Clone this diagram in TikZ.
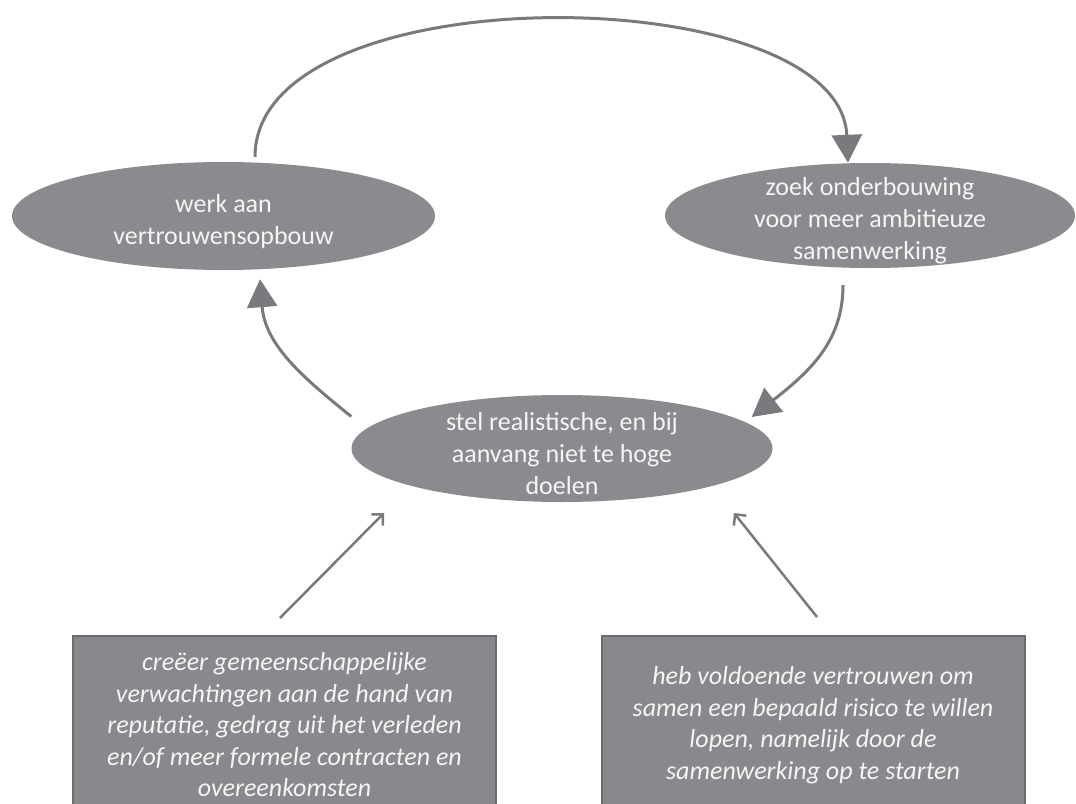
\documentclass[tikz,border=0pt]{standalone}
\usepackage{fontspec}
\setmainfont{Carlito}
\usetikzlibrary{arrows.meta,shapes.geometric}
\definecolor{ovalfill}{RGB}{139,139,143}
\definecolor{boxfill}{RGB}{137,137,141}
\definecolor{boxline}{RGB}{108,108,112}
\definecolor{linkgray}{RGB}{122,122,126}
\definecolor{textwhite}{RGB}{245,245,245}
\tikzset{
  oval/.style={ellipse, fill=ovalfill, inner sep=0pt},
  ovaltext/.style={text=textwhite, align=center, inner sep=0pt,
    font=\fontsize{26}{32}\selectfont},
  notebox/.style={rectangle, fill=boxfill, draw=boxline, line width=2pt,
    text=textwhite, align=center, minimum width=423pt, minimum height=178pt,
    font=\fontsize{26}{31.5}\selectfont\itshape},
  cycle arrow/.style={draw=linkgray, line width=3pt,
    -{Triangle[width=30pt,length=28pt]}},
  feed arrow/.style={draw=linkgray, line width=2.5pt,
    -{Straight Barb[length=8pt,width=16pt]}},
}
\begin{document}
\begin{tikzpicture}[x=1pt,y=-1pt]
  \useasboundingbox (0,0) rectangle (1076,803);
  \clip (0,0) rectangle (1076,803);

  % the three steps of the cycle
  \node[oval, minimum width=423pt, minimum height=108pt] (werk) at (223.5,216) {};
  \node[ovaltext] (werk-text) at ([yshift=-6pt]werk.center)
    {werk aan\\vertrouwensopbouw};
  \node[oval, minimum width=410pt, minimum height=105pt] (zoek) at (870,215.5) {};
  \node[ovaltext] (zoek-text) at ([yshift=-5pt]zoek.center)
    {zoek onderbouwing\\voor meer ambitieuze\\samenwerking};
  \node[oval, minimum width=421pt, minimum height=107pt] (stel) at (562,448.5) {};
  \node[ovaltext] (stel-text) at ([yshift=-5pt]stel.center)
    {stel realistische, en bij\\aanvang niet te hoge\\doelen};

  % the two conditions feeding the goals
  \node[notebox] (lbox) at (284.5,725)
    {creëer gemeenschappelijke\\verwachtingen aan de hand van\\reputatie, gedrag uit het verleden\\en/of meer formele contracten en\\overeenkomsten};
  \node[notebox] (rbox) at (813,725)
    {heb voldoende vertrouwen om\\samen een bepaald risico te willen\\lopen, namelijk door de\\samenwerking op te starten};

  % cycle connectors
  \draw[cycle arrow] ([xshift=31.5pt,yshift=5pt]werk.north)
    .. controls +(0,-185) and +(-8,-185) .. ([xshift=-22pt]zoek.north);
  \draw[cycle arrow] ([xshift=-27pt,yshift=-17pt]zoek.south)
    .. controls +(0,55) and +(60,-47) .. ([xshift=-21pt,yshift=31.5pt]stel.east);
  \draw[cycle arrow] ([yshift=32pt]stel.west)
    .. controls +(-50,-40) and +(5,65) .. ([xshift=36.5pt,yshift=-9pt]werk.south);

  % condition connectors
  \draw[feed arrow] ([xshift=-4.5pt,yshift=17pt]lbox.north)
    -- ([xshift=-178pt,yshift=-64.5pt]stel.center);
  \draw[feed arrow] ([xshift=4pt,yshift=18pt]rbox.north)
    -- ([xshift=172pt,yshift=-64.5pt]stel.center);
\end{tikzpicture}
\end{document}
